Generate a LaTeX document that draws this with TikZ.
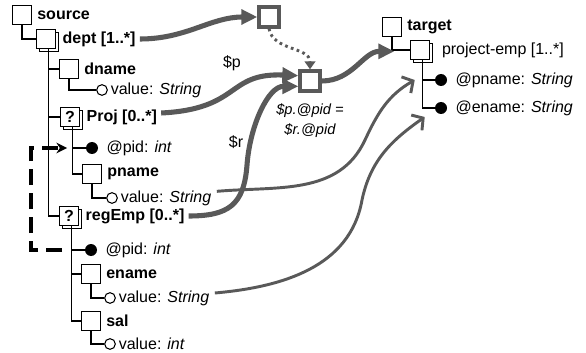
\documentclass[tikz,border=0pt]{standalone}
\usepackage{fontspec}
\setmainfont{Liberation Sans}
\usetikzlibrary{positioning,arrows.meta,shadows}
\colorlet{flowgray}{black!65}
\tikzset{
  elem/.style={draw, fill=white, minimum size=14pt, inner sep=0pt, line width=0.6pt},
  multi/.style={elem, copy shadow={shadow xshift=2pt, shadow yshift=-2pt, draw=black, fill=white, line width=0.6pt}},
  elname/.style={font=\fontsize{12}{14}\selectfont\bfseries, inner sep=1pt},
  txt/.style={inner sep=1pt},
  valc/.style={circle, draw, fill=white, minimum size=8pt, inner sep=0pt, line width=0.8pt},
  attc/.style={circle, fill, minimum size=9pt, inner sep=0pt},
  branch/.style={line width=0.8pt},
  op/.style={draw=flowgray, fill=white, line width=3pt, minimum size=14.5pt, inner sep=0pt},
  flow/.style={draw=flowgray, line width=3.8pt, -{Triangle[length=12pt,width=11pt]}},
  map/.style={draw=flowgray, line width=2.2pt, -{Straight Barb[length=6pt,width=14pt]}},
  dotlink/.style={draw=flowgray, line width=2.2pt, dash pattern=on 2pt off 2.6pt, -{Triangle[length=6pt,width=8pt]}},
  dashlink/.style={line width=2.4pt, dash pattern=on 12pt off 6pt, -{Stealth[length=8pt,width=8pt]}},
}
\begin{document}
\begin{tikzpicture}[x=0.75pt, y=-0.75pt, font=\fontsize{12}{14}\selectfont]
\useasboundingbox (0,0) rectangle (586,353);
% source tree
\node[elem] (src) at (22,15) {};
\node[elname, right=3pt of src] (srcl) {source};
\node[multi] (dept) at (46,39) {};
\node[elname, right=4pt of dept] (deptl) {dept [1..*]};
\node[elem] (dname) at (69,69) {};
\node[elname, right=3pt of dname] (dnamel) {dname};
\node[valc] (dnv) at (102,90) {};
\node[txt, right=1pt of dnv] (dnvl) {value: \textit{String}};
\node[multi] (proj) at (70,117) {\textbf{?}};
\node[elname, right=4pt of proj] (projl) {Proj [0..*]};
\node[attc] (ppid) at (92,148) {};
\node[txt, right=5pt of ppid] (ppidl) {@pid: \textit{int}};
\node[elem] (pname) at (92,174) {};
\node[elname, right=3pt of pname] (pnamel) {pname};
\node[valc] (pnv) at (112,198) {};
\node[txt, right=1pt of pnv] (pnvl) {value: \textit{String}};
\node[multi] (reg) at (69,216) {\textbf{?}};
\node[elname, right=4pt of reg] (regl) {regEmp [0..*]};
\node[attc] (rpid) at (91,250) {};
\node[txt, right=5pt of rpid] (rpidl) {@pid: \textit{int}};
\node[elem] (ename) at (91,274) {};
\node[elname, right=3pt of ename] (enamel) {ename};
\node[valc] (env) at (110,298) {};
\node[txt, right=1pt of env] (envl) {value: \textit{String}};
\node[elem] (sal) at (91,321) {};
\node[elname, right=3pt of sal] (sall) {sal};
\node[valc] (salv) at (110,344) {};
\node[txt, right=1pt of salv] (salvl) {value: \textit{int}};

\draw[branch] (src.south) |- (dept.west);
\draw[branch] ([xshift=2pt]dept.south) |- (dname.west);
\draw[branch] ([xshift=2pt]dept.south) |- (proj.west);
\draw[branch] ([xshift=2pt]dept.south) |- (reg.west);
\draw[branch] (dname.south) |- (dnv.west);
\draw[branch] ([xshift=2pt]proj.south) |- (ppid.west);
\draw[branch] ([xshift=2pt]proj.south) |- (pname.west);
\draw[branch] (pname.south) |- (pnv.west);
\draw[branch] ([xshift=2pt]reg.south) |- (rpid.west);
\draw[branch] ([xshift=2pt]reg.south) |- (ename.west);
\draw[branch] ([xshift=2pt]reg.south) |- (sal.west);
\draw[branch] (ename.south) |- (env.west);
\draw[branch] (sal.south) |- (salv.west);

% target tree
\node[elem] (tgt) at (392,27) {};
\node[elname, right=3pt of tgt] (tgtl) {target};
\node[multi] (pemp) at (420,50) {};
\node[txt, right=8pt of pemp] (pempl) {project-emp [1..*]};
\node[attc] (pnm) at (441,80) {};
\node[txt, right=5pt of pnm] (pnml) {@pname: \textit{String}};
\node[attc] (enm) at (441,108) {};
\node[txt, right=5pt of enm] (enml) {@ename: \textit{String}};

\draw[branch] (tgt.south) |- (pemp.west);
\draw[branch] ([xshift=2pt]pemp.south) |- (pnm.west);
\draw[branch] ([xshift=2pt]pemp.south) |- (enm.west);

% join
\node[op] (sq1) at (269,17) {};
\node[op] (join) at (310,81) {};
\node[txt, below=7pt of join, align=center, font=\itshape\fontsize{11}{15}\selectfont] (cond) {\$p.@pid =\\ \$r.@pid};
\node[txt] (pl) at (232,63) {\$p};
\node[txt] (rl) at (236,142) {\$r};

\draw[dotlink] (sq1.south) to[out=-80,in=90] (join.north);
\draw[flow] ([xshift=2pt]deptl.east) to[out=0,in=180] (sq1.west);
\draw[flow] ([xshift=2pt,yshift=3pt]projl.east) .. controls +(80,-4) and +(-72,-3) .. ([yshift=4pt]join.west);
\coordinate (rbend) at (247,165);
\draw[flow] ([xshift=2pt]regl.east) .. controls +(40,0) and +(-3,40) .. (rbend) .. controls +(3,-40) and +(-30,0) .. ([yshift=-4pt]join.west);
\draw[flow] (join.east) to[out=0,in=180] ([xshift=-12pt,yshift=-1pt]pemp.west);

% value mappings
\coordinate (pbend) at (365,140);
\draw[map] ([xshift=3pt,yshift=5pt]pnvl.east) to[out=5,in=-115] (pbend) to[out=65,in=210] ([xshift=-15pt]pnm.west);
\coordinate (ebend) at (362,200);
\draw[map] ([xshift=3pt,yshift=3.75pt]envl.east) to[out=5,in=-100] (ebend) to[out=78,in=215] ([xshift=-7.5pt,yshift=-6.75pt]enm.west);

% key reference
\draw[dashlink] ([xshift=-17pt]rpid.west) -- ++(-31,0) |- ([xshift=-14pt]ppid.west);
\end{tikzpicture}
\end{document}
